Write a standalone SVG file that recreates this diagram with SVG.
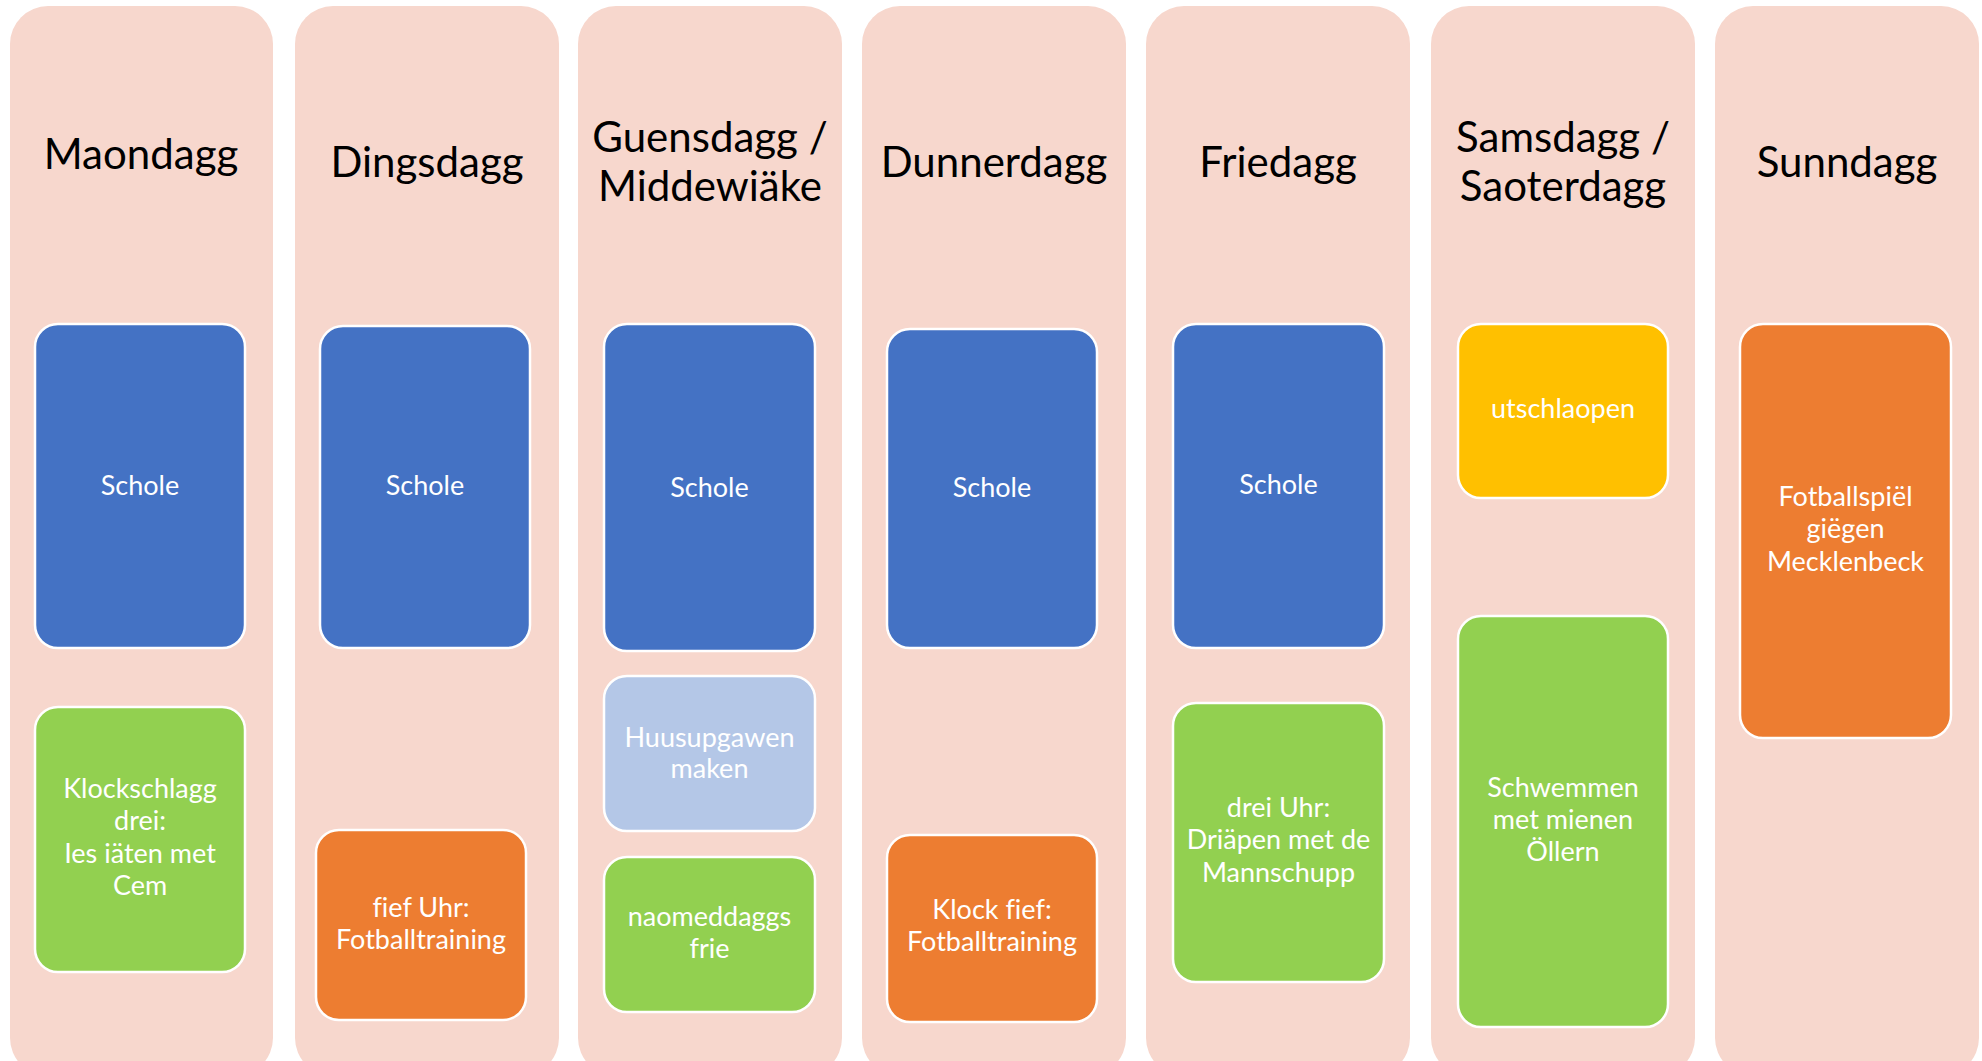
<svg xmlns="http://www.w3.org/2000/svg" width="1982" height="1061" viewBox="0 0 1982 1061">
<style>
.col{fill:#F7D7CD}
.hd{font-family:Lato,"Open Sans",sans-serif;font-size:42px;fill:#000;text-anchor:middle;font-variant-ligatures:none}
.bx{stroke:#fff;stroke-width:2.5}
.bt{font-family:Lato,"Open Sans",sans-serif;font-size:27px;fill:#fff;text-anchor:middle;font-variant-ligatures:none}
.blue{fill:#4472C4}.green{fill:#92D050}.orange{fill:#ED7D31}.yellow{fill:#FFC000}.lblue{fill:#B4C7E7}
</style>
<rect width="1982" height="1061" fill="#fff"/>
<g id="connectors"/>

<g id="col-maondagg">
<rect class="col" x="10" y="6" width="263" height="1070" rx="38"/>
<text class="hd" x="141" y="169">Maondagg</text>
<g id="mo-schole"><rect class="bx blue" x="35" y="324" width="210" height="324" rx="23"/><text class="bt" x="140" y="495">Schole</text></g>
<g id="mo-ies"><rect class="bx green" x="35" y="707" width="210" height="265" rx="23"/>
<text class="bt" x="140"><tspan x="140" y="798">Klockschlagg</tspan><tspan x="140" y="830">drei:</tspan><tspan x="140" y="863">Ies iäten met</tspan><tspan x="140" y="895">Cem</tspan></text></g>
</g>

<g id="col-dingsdagg">
<rect class="col" x="295" y="6" width="264" height="1070" rx="38"/>
<text class="hd" x="427" y="177">Dingsdagg</text>
<g id="di-schole"><rect class="bx blue" x="320" y="326" width="210" height="322" rx="23"/><text class="bt" x="425" y="495">Schole</text></g>
<g id="di-fotball"><rect class="bx orange" x="316" y="830" width="210" height="190" rx="23"/>
<text class="bt"><tspan x="421" y="917">fief Uhr:</tspan><tspan x="421" y="949">Fotballtraining</tspan></text></g>
</g>

<g id="col-guensdagg">
<rect class="col" x="578" y="6" width="264" height="1070" rx="38"/>
<text class="hd"><tspan x="710" y="152">Guensdagg /</tspan><tspan x="710" y="201">Middewiäke</tspan></text>
<g id="gu-schole"><rect class="bx blue" x="604" y="324" width="211" height="327" rx="23"/><text class="bt" x="709.5" y="497">Schole</text></g>
<g id="gu-huus"><rect class="bx lblue" x="604" y="676" width="211" height="155" rx="23"/>
<text class="bt"><tspan x="709.5" y="747">Huusupgawen</tspan><tspan x="709.5" y="778">maken</tspan></text></g>
<g id="gu-frie"><rect class="bx green" x="604" y="857" width="211" height="155" rx="23"/>
<text class="bt"><tspan x="709.5" y="926">naomeddaggs</tspan><tspan x="709.5" y="958">frie</tspan></text></g>
</g>

<g id="col-dunnerdagg">
<rect class="col" x="862" y="6" width="264" height="1070" rx="38"/>
<text class="hd" x="994" y="177">Dunnerdagg</text>
<g id="du-schole"><rect class="bx blue" x="887" y="329" width="210" height="319" rx="23"/><text class="bt" x="992" y="497">Schole</text></g>
<g id="du-fotball"><rect class="bx orange" x="887" y="835" width="210" height="187" rx="23"/>
<text class="bt"><tspan x="992" y="919">Klock fief:</tspan><tspan x="992" y="951">Fotballtraining</tspan></text></g>
</g>

<g id="col-friedagg">
<rect class="col" x="1146" y="6" width="264" height="1070" rx="38"/>
<text class="hd" x="1278" y="177">Friedagg</text>
<g id="fr-schole"><rect class="bx blue" x="1173" y="324" width="211" height="324" rx="23"/><text class="bt" x="1278.5" y="494">Schole</text></g>
<g id="fr-driapen"><rect class="bx green" x="1173" y="703" width="211" height="279" rx="23"/>
<text class="bt"><tspan x="1278.5" y="817">drei Uhr:</tspan><tspan x="1278.5" y="849">Driäpen met de</tspan><tspan x="1278.5" y="882">Mannschupp</tspan></text></g>
</g>

<g id="col-samsdagg">
<rect class="col" x="1431" y="6" width="264" height="1070" rx="38"/>
<text class="hd"><tspan x="1563" y="152">Samsdagg /</tspan><tspan x="1563" y="201">Saoterdagg</tspan></text>
<g id="sa-utschlaopen"><rect class="bx yellow" x="1458" y="324" width="210" height="174" rx="23"/><text class="bt" x="1563" y="418">utschlaopen</text></g>
<g id="sa-schwemmen"><rect class="bx green" x="1458" y="616" width="210" height="411" rx="23"/>
<text class="bt"><tspan x="1563" y="797">Schwemmen</tspan><tspan x="1563" y="829">met mienen</tspan><tspan x="1563" y="861">Öllern</tspan></text></g>
</g>

<g id="col-sunndagg">
<rect class="col" x="1715" y="6" width="264" height="1070" rx="38"/>
<text class="hd" x="1847" y="177">Sunndagg</text>
<g id="su-fotballspiel"><rect class="bx orange" x="1740" y="324" width="211" height="414" rx="23"/>
<text class="bt"><tspan x="1845.5" y="506">Fotballspiël</tspan><tspan x="1845.5" y="538">giëgen</tspan><tspan x="1845.5" y="571">Mecklenbeck</tspan></text></g>
</g>
</svg>
